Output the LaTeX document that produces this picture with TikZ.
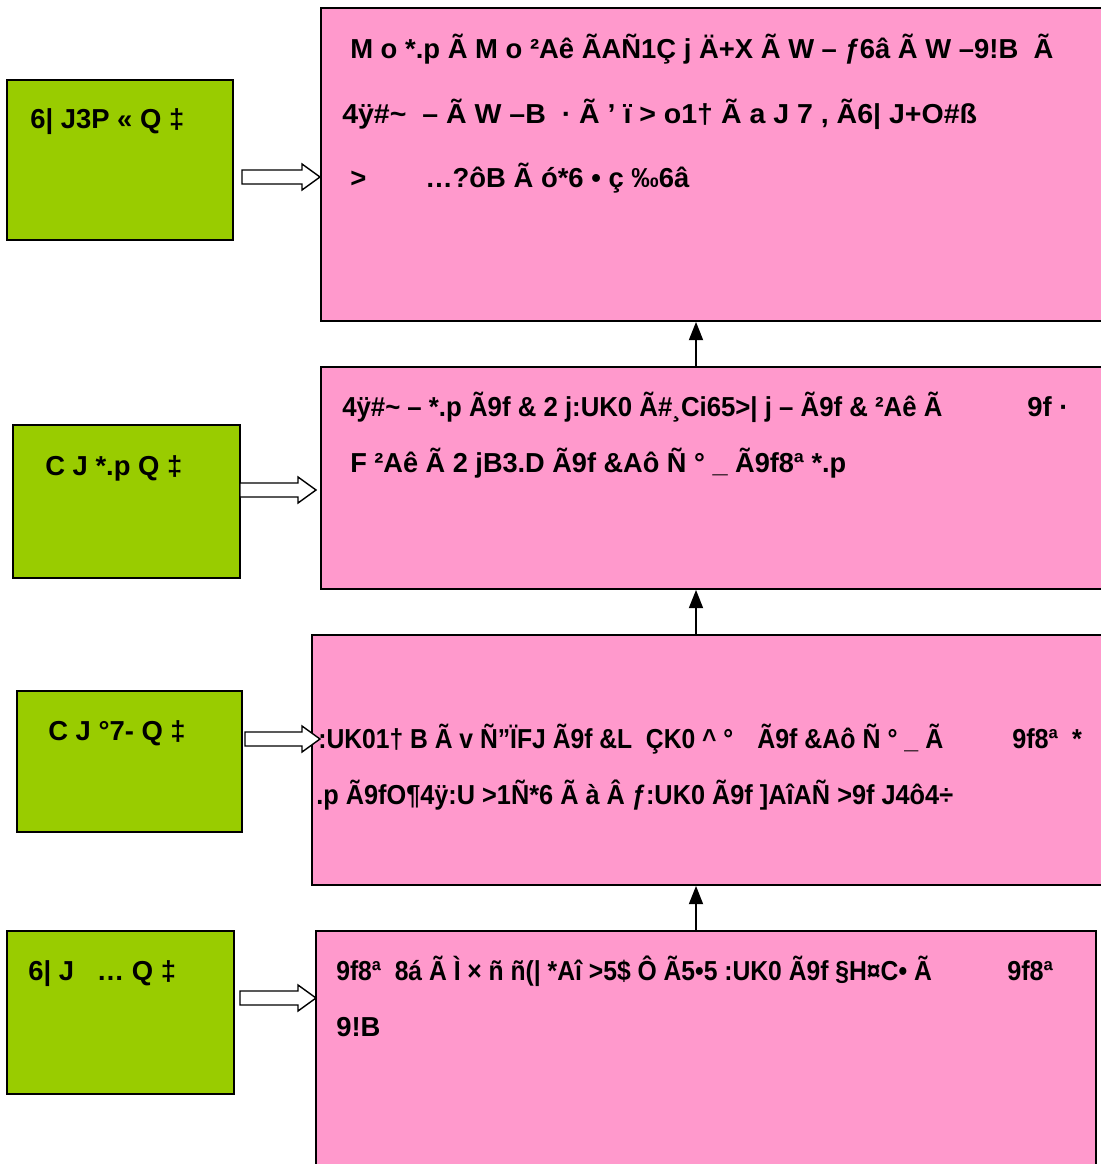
\documentclass[tikz,border=0pt]{standalone}
\usepackage{fontspec}
\usepackage{graphicx}
\setmainfont{Liberation Sans}
\usetikzlibrary{fit,arrows.meta}
\definecolor{boxpink}{HTML}{FF99CC}
\definecolor{boxgreen}{HTML}{99CC00}
\newcommand{\sqz}[2]{\scalebox{#1}[1]{#2}}
\begin{document}
\begin{tikzpicture}[x=0.025cm, y=-0.025cm]
      \tikzstyle{pbox} = [draw=black, fill=boxpink, line width=1.3pt, inner sep=0pt]
      \tikzstyle{gbox} = [draw=black, fill=boxgreen, line width=1.3pt, inner sep=0pt]
      \tikzstyle{txt} = [anchor=base west, inner sep=0pt, font=\fontsize{19.5}{23}\selectfont\bfseries]
      \tikzstyle{hollow} = [draw=black, fill=white, line width=1pt]
      \tikzstyle{up} = [line width=1.2pt, -{Triangle[length=13pt, width=10pt]}]

      \useasboundingbox (0,0) rectangle (1100,1164);

      %%%%%%%%%%%%%%%%%%%%%%%%%%%%%%
      %% The pink boxes
      %%%%%%%%%%%%%%%%%%%%%%%%%%%%%%
      \coordinate (p1a) at (321,8);   \coordinate (p1b) at (1104,321);
      \coordinate (p2a) at (321,367); \coordinate (p2b) at (1104,589);
      \coordinate (p3a) at (312,635); \coordinate (p3b) at (1104,885);
      \coordinate (p4a) at (316,931); \coordinate (p4b) at (1096,1170);
      \node[pbox, fit=(p1a)(p1b)] (p1) {};
      \node[pbox, fit=(p2a)(p2b)] (p2) {};
      \node[pbox, fit=(p3a)(p3b)] (p3) {};
      \node[pbox, fit=(p4a)(p4b)] (p4) {};

      %%%%%%%%%%%%%%%%%%%%%%%%%%%%%%
      %% The green boxes
      %%%%%%%%%%%%%%%%%%%%%%%%%%%%%%
      \coordinate (g1a) at (7,80);   \coordinate (g1b) at (233,240);
      \coordinate (g2a) at (13,425); \coordinate (g2b) at (240,578);
      \coordinate (g3a) at (17,691); \coordinate (g3b) at (242,832);
      \coordinate (g4a) at (7,931);  \coordinate (g4b) at (234,1094);
      \node[gbox, fit=(g1a)(g1b)] (g1) {};
      \node[gbox, fit=(g2a)(g2b)] (g2) {};
      \node[gbox, fit=(g3a)(g3b)] (g3) {};
      \node[gbox, fit=(g4a)(g4b)] (g4) {};

      \node[txt] (g1t) at (30,128) {6| J3P « Q ‡};
      \node[txt] (g2t) at (45,475) {C J *.p Q ‡};
      \node[txt] (g3t) at (48,740) {C J °7- Q ‡};
      \node[txt] (g4t) at (28,980) {6| J \ \ … Q ‡};

      %%%%%%%%%%%%%%%%%%%%%%%%%%%%%%
      %% The hollow arrows
      %%%%%%%%%%%%%%%%%%%%%%%%%%%%%%
      \draw[hollow] (242,170) -- (302,170) -- (302,164) -- (320,177) -- (302,190) -- (302,184) -- (242,184) -- cycle;
      \draw[hollow] (240,483) -- (298,483) -- (298,477) -- (316,490) -- (298,503) -- (298,497) -- (240,497) -- cycle;
      \draw[hollow] (245,732) -- (302,732) -- (302,726) -- (320,739) -- (302,752) -- (302,746) -- (245,746) -- cycle;
      \draw[hollow] (240,991) -- (298,991) -- (298,985) -- (316,998) -- (298,1011) -- (298,1005) -- (240,1005) -- cycle;

      %%%%%%%%%%%%%%%%%%%%%%%%%%%%%%
      %% The texts
      %%%%%%%%%%%%%%%%%%%%%%%%%%%%%%
      \node[txt] (t11) at (350,58) {M o *.p Ã M o ²Aê ÃAÑ1Ç j Ä+X Ã W – ƒ6â Ã W –9!B \ Ã};
      \node[txt] (t12) at (342,123) {\sqz{1.04}{4ÿ\#\textasciitilde{} \ – Ã W –B \ · Ã ’ ï > o1† Ã a J 7 , Ã6| J+O\#ß}};
      \node[txt] (t13) at (350,187) {>};
      \node[txt] (t14) at (425,187) {…?ôB Ã ó*6 • ç ‰6â};

      \node[txt] (t21) at (342,416) {\sqz{0.94}{4ÿ\#\textasciitilde{} – *.p Ã9f \& 2 j:UK0 Ã\#¸Ci65>| j – Ã9f \& ²Aê Ã}};
      \node[txt] (t22) at (1027,416) {9f ·};
      \node[txt] (t23) at (350,472) {\sqz{0.99}{F ²Aê Ã 2 jB3.D Ã9f \&Aô Ñ ° \_ Ã9f8ª *.p}};

      \node[txt] (t31) at (318,748) {\sqz{0.9}{:UK01† B Ã v Ñ"ÏFJ Ã9f \&L \ ÇK0 \textasciicircum{} °}};
      \node[txt] (t32) at (757,748) {\sqz{0.91}{Ã9f \&Aô Ñ ° \_ Ã}};
      \node[txt] (t33) at (1012,748) {\sqz{0.92}{9f8ª \ *}};
      \node[txt] (t34) at (316,804) {\sqz{0.923}{.p Ã9fO¶4ÿ:U >1Ñ*6 Ã à Â ƒ:UK0 Ã9f ]AîAÑ >9f J4ô4÷}};

      \node[txt] (t41) at (336,980) {\sqz{0.9}{9f8ª \ 8á Ã Ì × ñ ñ(| *Aî >5\$ Ô Ã5•5 :UK0 Ã9f §H¤C• Ã}};
      \node[txt] (t42) at (1007,980) {\sqz{0.92}{9f8ª}};
      \node[txt] (t43) at (336,1036) {9!B};

      %%%%%%%%%%%%%%%%%%%%%%%%%%%%%%
      %% The black arrows between the pink boxes
      %%%%%%%%%%%%%%%%%%%%%%%%%%%%%%
      \draw[up] (p2.north -| 696,0) -- (p1.south -| 696,0);
      \draw[up] (p3.north -| 696,0) -- (p2.south -| 696,0);
      \draw[up] (p4.north -| 696,0) -- (p3.south -| 696,0);

\end{tikzpicture}
\end{document}
